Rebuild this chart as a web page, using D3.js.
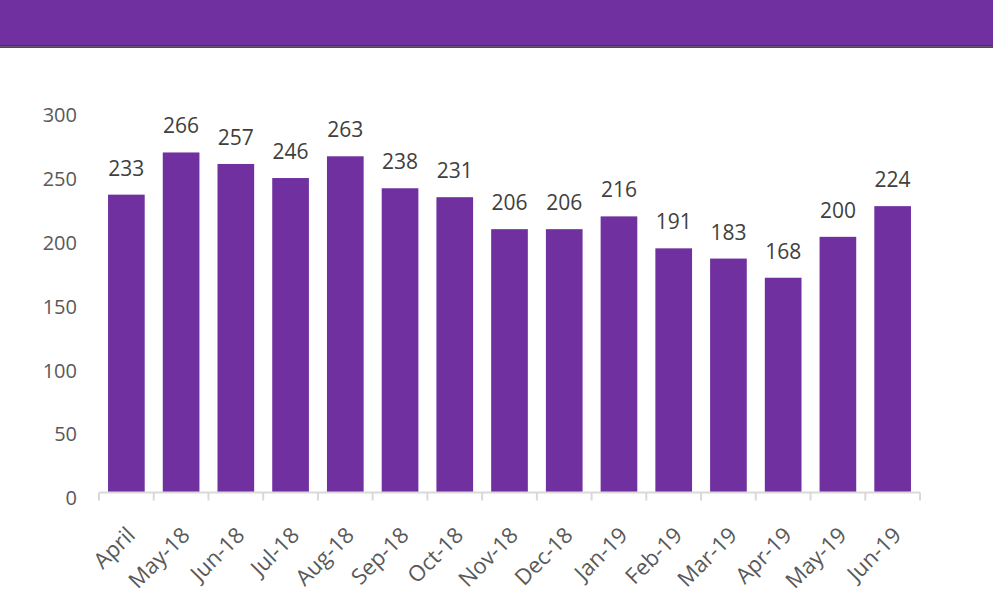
<!DOCTYPE html>
<html>
<head>
<meta charset="utf-8">
<script src="https://cdn.jsdelivr.net/npm/d3@7"></script>
<style>
  body { margin: 0; background: #fff; }
  svg { display: block; font-family: "Open Sans", "Noto Sans", sans-serif; }
</style>
</head>
<body>
<svg id="chart" width="993" height="615"></svg>
<script>
// Chart data
const months = ["April", "May-18", "Jun-18", "Jul-18", "Aug-18", "Sep-18", "Oct-18", "Nov-18",
                "Dec-18", "Jan-19", "Feb-19", "Mar-19", "Apr-19", "May-19", "Jun-19"];
const counts = [233, 266, 257, 246, 263, 238, 231, 206, 206, 216, 191, 183, 168, 200, 224];
const yTicks = [0, 50, 100, 150, 200, 250, 300];

const svg = d3.select("#chart");
const purple = "#7030A0";

// Header band
svg.append("rect").attr("x", 0).attr("y", 0).attr("width", 993).attr("height", 46).attr("fill", purple);
svg.append("rect").attr("x", 0).attr("y", 45.5).attr("width", 993).attr("height", 1.2).attr("fill", "#3b1655");
svg.append("rect").attr("x", 0).attr("y", 46.7).attr("width", 993).attr("height", 1.3).attr("fill", "#4a4a52");

const margin = { left: 99, right: 73, top: 109, bottom: 122.5 };
const width = 993 - margin.left - margin.right;
const height = 615 - margin.top - margin.bottom;

const g = svg.append("g").attr("transform", `translate(${margin.left},${margin.top})`);

const x = d3.scaleBand().domain(months).range([0, width]).paddingInner(0.33).paddingOuter(0.165);
const y = d3.scaleLinear().domain([0, 300]).range([height, 0]);

// Bars
g.selectAll(".bar")
  .data(months)
  .join("rect")
    .attr("class", "bar")
    .attr("x", d => x(d))
    .attr("y", (d, i) => y(counts[i]))
    .attr("width", x.bandwidth())
    .attr("height", (d, i) => height - y(counts[i]))
    .attr("fill", purple);

// Value labels
g.selectAll(".val")
  .data(months)
  .join("text")
    .attr("class", "val")
    .attr("x", d => x(d) + x.bandwidth() / 2)
    .attr("y", (d, i) => y(counts[i]) - 19)
    .attr("text-anchor", "middle")
    .attr("font-size", 21)
    .attr("fill", "#404040")
    .text((d, i) => counts[i]);

// Y axis labels (no line)
const yAxis = g.append("g")
  .call(d3.axisLeft(y).tickValues(yTicks).tickSize(0).tickPadding(22));
yAxis.select(".domain").remove();
yAxis.selectAll("text")
  .attr("font-size", 20)
  .attr("fill", "#595959")
  .attr("font-family", "'Open Sans', sans-serif")
  .attr("dy", "0.62em");

// X axis with tick marks between bands
const xAxisG = g.append("g").attr("transform", `translate(0,${height})`);
xAxisG.append("line")
  .attr("x1", 0).attr("x2", width)
  .attr("stroke", "#d9d9d9").attr("stroke-width", 2);
xAxisG.selectAll(".tick-mark")
  .data(d3.range(months.length + 1))
  .join("line")
    .attr("class", "tick-mark")
    .attr("x1", i => i * width / months.length)
    .attr("x2", i => i * width / months.length)
    .attr("y1", 0).attr("y2", 8)
    .attr("stroke", "#d9d9d9").attr("stroke-width", 2);

xAxisG.selectAll(".xlabel")
  .data(months)
  .join("text")
    .attr("class", "xlabel")
    .attr("text-anchor", "end")
    .attr("font-size", 22)
    .attr("fill", "#595959")
    .attr("transform", d => `translate(${x(d) + x.bandwidth() / 2 + 10},${44}) rotate(-45)`)
    .text(d => d);
</script>
</body>
</html>
